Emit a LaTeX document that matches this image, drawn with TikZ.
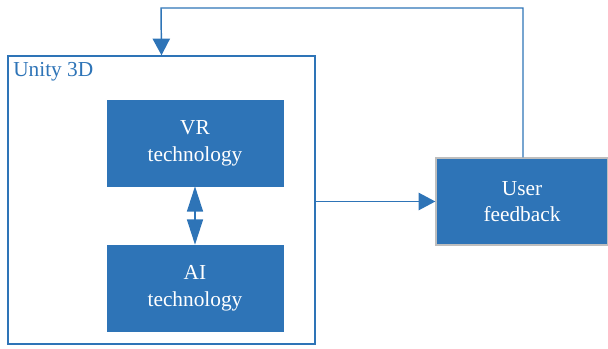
\documentclass[tikz,border=0pt]{standalone}
\usepackage{fontspec}
\setmainfont{Liberation Serif}
\usetikzlibrary{arrows.meta,positioning}
\definecolor{ublue}{RGB}{46,116,183}
\definecolor{ugray}{RGB}{190,190,190}
\tikzset{longtip/.tip={Triangle[width=12pt,length=19pt]}}
\begin{document}
\begin{tikzpicture}[x=0.75pt,y=-0.75pt,
  blockbox/.style={draw=ublue,fill=ublue,text=white,align=center,inner sep=0pt,font=\fontsize{16}{20}\selectfont},
  conn/.style={draw=ublue,line width=1.1pt,-{Triangle[width=13pt,length=12.5pt]}}]
\useasboundingbox (0,0) rectangle (608,349);
\node[draw=ublue,line width=1.1pt,minimum width=307*0.75pt,minimum height=288*0.75pt,inner sep=0pt] (outer) at (161.5,200) {};
\node[anchor=north west,text=ublue,font=\fontsize{16}{20}\selectfont,inner sep=0pt] (lbl) at (13,62) {Unity 3D};
\node[blockbox,minimum width=176*0.75pt,minimum height=86*0.75pt] (vr) at (195,143) {VR\\technology};
\node[blockbox,minimum width=176*0.75pt,minimum height=86*0.75pt] (ai) at (195,288) {AI\\technology};
\node[blockbox,draw=ugray,line width=1pt,minimum width=172*0.75pt,minimum height=87*0.75pt] (uf) at (522,201.5) {User\\feedback};
\coordinate (c1) at (523,8);
\coordinate (c2) at (161,8);
\draw[conn] (outer.east |- uf.west) -- (uf.west);
\draw[conn] (uf.north -| c1) -- (c1) -- (c2) -- (outer.north);
\draw[draw=ublue,line width=1.1pt,longtip-longtip] (vr.south) -- (ai.north);
\end{tikzpicture}
\end{document}
